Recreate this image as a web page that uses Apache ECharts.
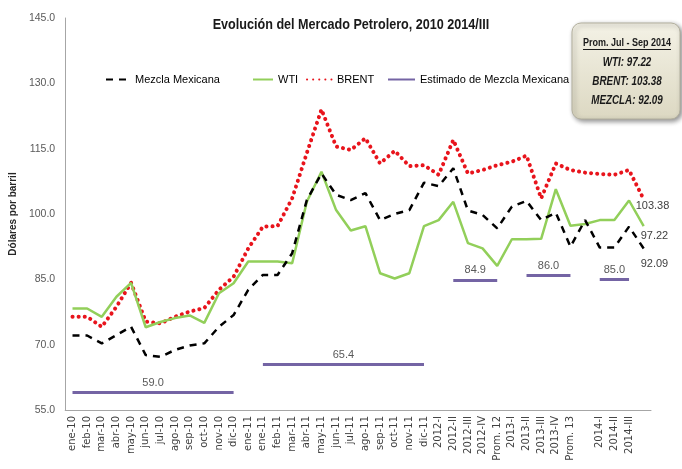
<!DOCTYPE html>
<html>
<head>
<meta charset="utf-8">
<script src="https://cdn.jsdelivr.net/npm/echarts@6/dist/echarts.min.js"></script>
<style>html,body{margin:0;padding:0;background:#fff}#c{width:682px;height:469px}</style>
</head>
<body>
<div id="c"></div>
<script>
const categories = ['ene-10','feb-10','mar-10','abr-10','may-10','jun-10','jul-10','ago-10','sep-10','oct-10','nov-10','dic-10',
  'ene-11','ene-11','feb-11','mar-11','abr-11','may-11','jun-11','jul-11','ago-11','sep-11','oct-11','nov-11','dic-11',
  '2012-I','2012-II','2012-III','2012-IV','Prom. 12','2013-I','2013-II','2013-III','2013-IV','Prom. 13','',
  '2014-I','2014-II','2014-III',''];
const mezcla = [72.1,72.1,70.3,72.2,74.1,67.6,67.2,68.8,69.8,70.3,74.1,76.8,
  82.6,86.0,86.0,91.0,103.2,109.3,104.4,103.2,104.8,98.6,100.0,100.9,107.2,
  106.4,110.5,100.8,99.8,96.7,101.7,103.0,98.6,100.3,92.5,98.6,
  92.3,92.3,97.1,92.09];
const wti = [78.3,78.3,76.4,81.0,84.2,74.0,75.2,76.1,76.7,75.0,81.8,84.1,
  89.1,89.1,89.1,88.7,102.8,109.7,100.9,96.2,97.2,86.4,85.2,86.4,97.2,
  98.6,102.8,93.3,92.1,88.1,94.2,94.2,94.3,105.7,97.3,97.7,
  98.6,98.6,103.1,97.22];
const brent = [76.4,76.4,74.1,78.7,84.2,75.3,74.9,76.4,77.6,78.4,82.6,85.6,
  92.1,97.1,97.2,103.6,114.0,124.0,115.5,114.7,117.4,111.6,114.5,111.0,111.2,
  109.0,117.0,109.3,110.1,111.2,112.0,113.4,103.6,111.6,110.1,109.5,
  109.2,109.0,110.1,103.38];
const estValues = [59.0, 65.4, 84.9, 86.0, 85.0];
const estFrom = [0, 13, 26, 31, 36];
const estTo = [11, 24, 29, 34, 38];
const yMin = 55, yMax = 145, yStep = 15;

const SANS = '"Liberation Sans", Arial, sans-serif';
const last = a => a[a.length - 1];

const chart = echarts.init(document.getElementById('c'));
const endLbl = (off) => ({
  show: true, formatter: p => String(p.value), offset: off,
  fontFamily: SANS, fontSize: 11, color: '#404040', distance: 0
});
const legendBase = {
  top: 69, itemHeight: 12, itemGap: 8,
  itemStyle: { opacity: 0 },
  textStyle: { fontFamily: SANS, fontSize: 11, color: '#000' }
};
const boxText = (txt, y, font) => ({
  type: 'text', x: 627, y: y, z: 11, scaleX: 0.82,
  style: { text: txt, align: 'center', verticalAlign: 'middle', font: font + ' ' + SANS, fill: '#1a1a1a' }
});

chart.setOption({
  animation: false,
  legend: [
    Object.assign({}, legendBase, { left: 100, itemWidth: 24, data: ['Mezcla Mexicana'] }),
    Object.assign({}, legendBase, { left: 247, itemWidth: 20, data: ['WTI'] }),
    Object.assign({}, legendBase, { left: 301, itemWidth: 25, data: ['BRENT'] }),
    Object.assign({}, legendBase, { left: 382, itemWidth: 27, data: ['Estimado de Mezcla Mexicana'] })
  ],
  grid: { left: 57, right: 31, top: 18, bottom: 59, containLabel: false },
  xAxis: {
    type: 'category', data: categories, boundaryGap: true,
    axisLine: { lineStyle: { color: '#a6a6a6', width: 1 } },
    axisTick: { show: false },
    axisLabel: { interval: 0, rotate: 90, margin: 6, fontFamily: 'DejaVu Sans', fontSize: 10, color: '#404040' }
  },
  yAxis: {
    type: 'value', min: yMin, max: yMax, interval: yStep,
    name: 'Dólares por barril', nameLocation: 'middle', nameGap: 31,
    nameTextStyle: { fontFamily: SANS, fontSize: 10, color: '#262626', fontWeight: 'bold' },
    axisLine: { show: true, lineStyle: { color: '#a6a6a6', width: 1 } },
    axisTick: { show: false },
    splitLine: { show: false },
    axisLabel: { formatter: v => v.toFixed(1), margin: 10, fontFamily: SANS, fontSize: 10.5, color: '#595959' }
  },
  series: [
    {
      name: 'Estimado de Mezcla Mexicana', type: 'line', data: [], symbol: 'none',
      lineStyle: { color: '#7464a4', width: 2.5 }, itemStyle: { color: '#7464a4' },
      markLine: {
        silent: true, symbol: ['none', 'none'],
        lineStyle: { color: '#7464a4', width: 3, type: 'solid' },
        label: { show: true, position: 'middle', formatter: p => p.value.toFixed(1),
          fontFamily: SANS, fontSize: 11, color: '#595959', distance: 4 },
        data: estValues.map((v, i) => [{ coord: [estFrom[i], v], value: v }, { coord: [estTo[i], v], value: v }])
      }
    },
    {
      name: 'BRENT', type: 'line', data: brent, symbol: 'none', z: 3,
      lineStyle: { color: '#e8141c', width: 4, type: [0.1, 6], cap: 'round' },
      itemStyle: { color: '#e8141c' },
      endLabel: endLbl([-8, 7])
    },
    {
      name: 'WTI', type: 'line', data: wti, symbol: 'none', z: 4,
      lineStyle: { color: '#92cf5a', width: 2.5 }, itemStyle: { color: '#92cf5a' },
      endLabel: endLbl([-3, 10])
    },
    {
      name: 'Mezcla Mexicana', type: 'line', data: mezcla, symbol: 'none', z: 5,
      lineStyle: { color: '#000', width: 2.5, type: [7, 6] }, itemStyle: { color: '#000' },
      endLabel: endLbl([-3, 16])
    }
  ],
  graphic: [
    { type: 'text', x: 351, y: 25, scaleX: 0.9, z: 11,
      style: { text: 'Evolución del Mercado Petrolero, 2010 2014/III', align: 'center', verticalAlign: 'middle',
        font: 'bold 14px ' + SANS, fill: '#1a1a1a' } },
    {
      type: 'rect', shape: { x: 572, y: 23, width: 108, height: 96, r: 9 },
      style: {
        fill: new echarts.graphic.LinearGradient(0, 0, 0, 1, [
          { offset: 0, color: '#f4f2e6' }, { offset: 1, color: '#dcd8c2' }]),
        stroke: '#b3b09e', lineWidth: 1,
        shadowBlur: 5, shadowColor: 'rgba(0,0,0,0.45)', shadowOffsetX: 2, shadowOffsetY: 2
      }, z: 10
    },
    boxText('Prom. Jul - Sep 2014', 43, 'bold 11px'),
    { type: 'line', z: 11, shape: { x1: 583, y1: 49.5, x2: 671, y2: 49.5 }, style: { stroke: '#1a1a1a', lineWidth: 1 } },
    boxText('WTI: ' + last(wti), 63, 'italic bold 12px'),
    boxText('BRENT: ' + last(brent), 81.5, 'italic bold 12px'),
    boxText('MEZCLA: ' + last(mezcla), 100.5, 'italic bold 12px')
  ]
});
</script>
</body>
</html>
